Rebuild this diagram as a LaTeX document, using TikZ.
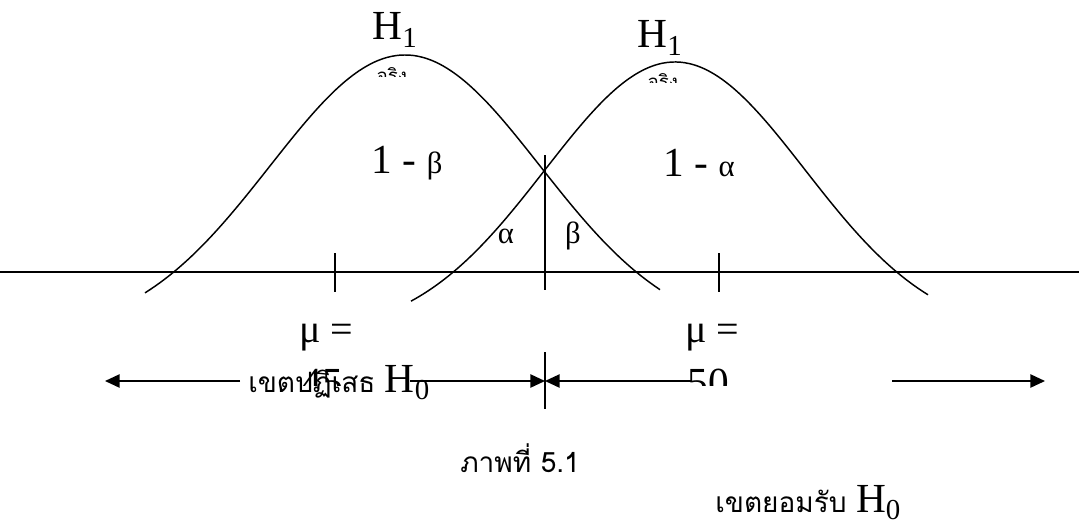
\documentclass[tikz,border=0pt]{standalone}
\usepackage{fontspec}
\setmainfont{Liberation Serif}
\newfontfamily\thaifont[Script=Thai]{Loma}
\usetikzlibrary{arrows.meta,calc}

\begin{document}
\begin{tikzpicture}[x=0.75pt,y=-0.75pt,
      ln/.style={line width=1.1pt},
      arr/.style={ln,-{Triangle[length=11pt,width=10pt]}},
      big/.style={font=\fontsize{31}{31}\selectfont,inner sep=0pt},
      grk/.style={font=\fontsize{23}{23}\selectfont,inner sep=0pt},
      mu/.style={font=\fontsize{30}{30}\selectfont,inner sep=0pt},
      th/.style={font=\fontsize{21}{21}\selectfont\thaifont,inner sep=0pt},
      thsmall/.style={font=\fontsize{14}{14}\selectfont\thaifont,inner sep=0pt}]
    \useasboundingbox (0,0) rectangle (1079,519);
    % axis, marks, critical value
    \coordinate (axL) at (0,272); \coordinate (axR) at (1079,272);
    \draw[ln] (axL) -- (axR);
    \coordinate (m45t) at (335,253); \coordinate (m45b) at (335,292);
    \coordinate (m50t) at (719,253); \coordinate (m50b) at (719,292);
    \draw[ln] (m45t) -- (m45b);
    \draw[ln] (m50t) -- (m50b);
    \coordinate (cvt) at (545,155); \coordinate (cvb) at (545,290);
    \draw[ln] (cvt) -- (cvb);
    % the two curves
    \draw[ln,domain=145:660,samples=120,smooth] plot (\x,{337-282*exp(-0.5*((\x-405)/135)^2)});
    \draw[ln,domain=411:928,samples=120,smooth] plot (\x,{336-274*exp(-0.5*((\x-675)/130)^2)});
    % labels on the curves
    \node[big] (h1a) at (395,30) {H\textsubscript{1}};
    \node[big] (h1b) at (660,38) {H\textsubscript{1}};
    \begin{scope}
      \clip (350,50) rectangle (440,76);
      \node[thsmall,anchor=base] (jra) at (392,82) {จริง};
    \end{scope}
    \begin{scope}
      \clip (620,60) rectangle (710,82);
      \node[thsmall,anchor=base] (jrb) at (663,88) {จริง};
    \end{scope}
    \node[big] (pw) at (407,163) {1 - {\fontsize{23}{23}\selectfont β}};
    \node[big] (cf) at (699,163) {1 - {\fontsize{23}{23}\selectfont α}};
    \node[grk] (al) at (506,236) {α};
    \node[grk] (be) at (573,236) {β};
    % means
    \node[mu] (mua) at (326,338) {μ =};
    \node[mu] (mub) at (712,338) {μ =};
    \begin{scope}
      \clip (280,350) rectangle (760,385);
      \node[big,anchor=base] (n45) at (322,396) {45};
      \node[big,anchor=base] (n50) at (708,396) {50};
    \end{scope}
    % regions
    \coordinate (mid) at (545,381);
    \coordinate (midt) at (545,352); \coordinate (midb) at (545,409);
    \draw[ln] (midt) -- (midb);
    \node[th,anchor=base west] (rej) at (248,392) {เขตปฏิเสธ {\fontsize{31}{31}\selectfont\rmfamily H\textsubscript{0}}};
    \coordinate (rejL) at (240,381); \coordinate (rejR) at (410,381);
    \coordinate (tipL) at (105,381);
    \draw[arr] (rejL) -- (tipL);
    \draw[arr] (rejR) -- (mid);
    \coordinate (accL) at (692,381); \coordinate (accR) at (892,381);
    \coordinate (tipR) at (1045,381);
    \draw[arr] (accL) -- (mid);
    \draw[arr] (accR) -- (tipR);
    \node[th,anchor=base west] (acc) at (715,512) {เขตยอมรับ {\fontsize{31}{31}\selectfont\rmfamily H\textsubscript{0}}};
    \node[th,anchor=base west] (cap) at (460,472) {ภาพที่ 5.1};
  \end{tikzpicture}
\end{document}
